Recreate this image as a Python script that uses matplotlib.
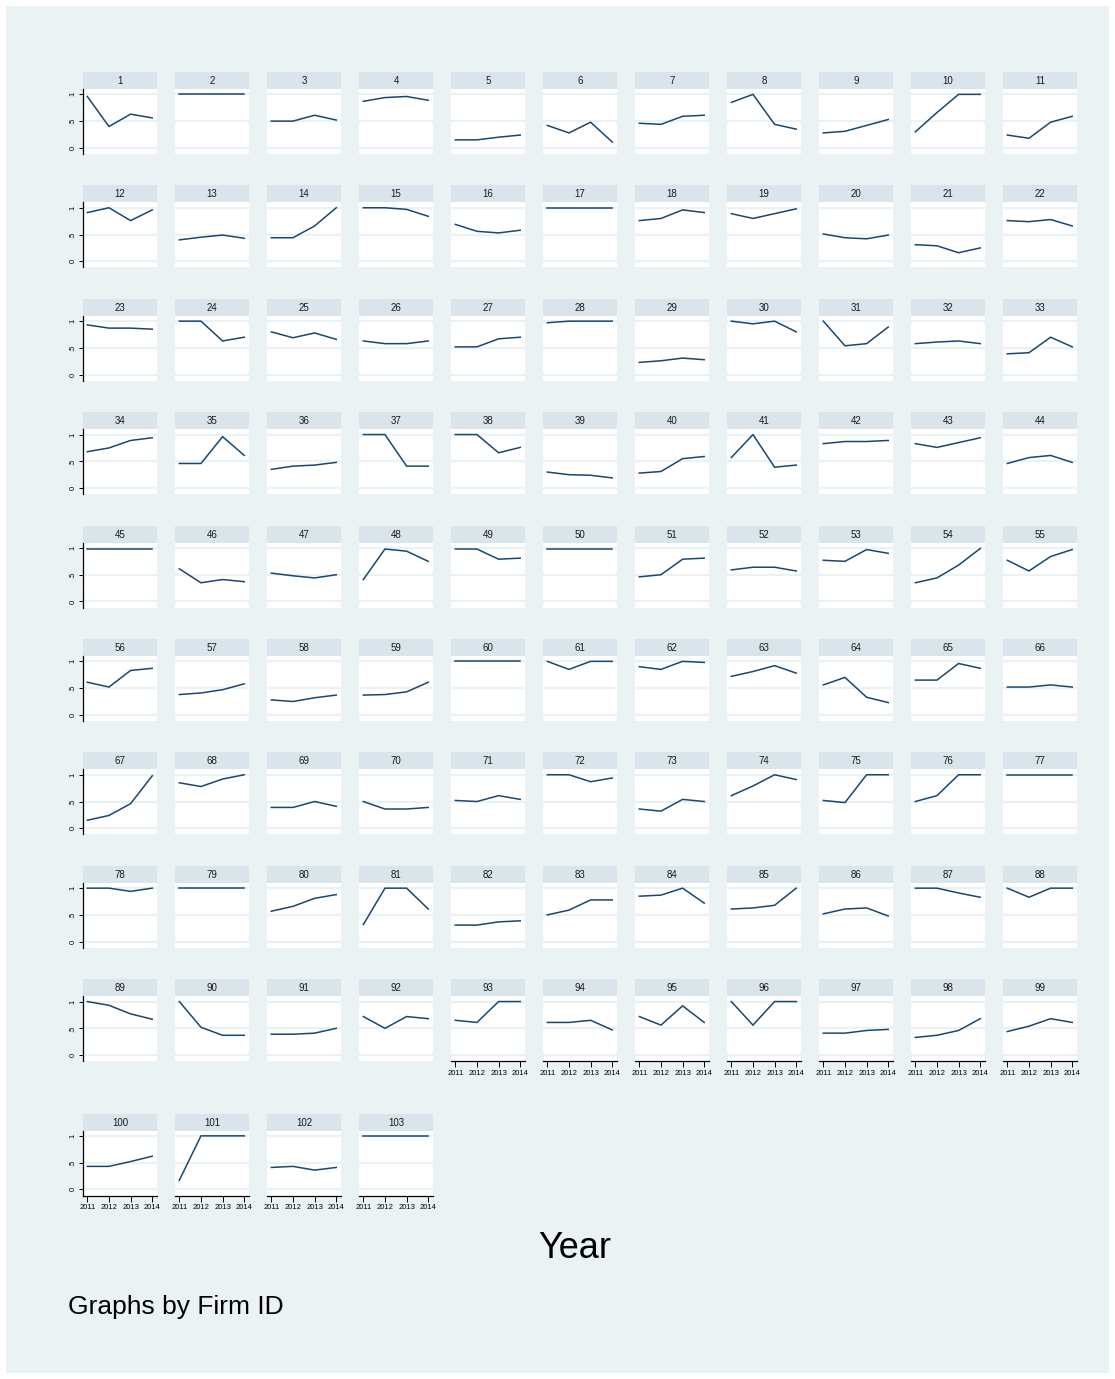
import matplotlib
matplotlib.use("Agg")
import matplotlib.pyplot as plt
from matplotlib.patches import Rectangle

# ---- data: share per firm, 2011-2014 ----
years = [2011, 2012, 2013, 2014]
y_ticks = [0, 0.5, 1]
y_tick_labels = ["0", ".5", "1"]

firms_001_011 = [
    [0.96, 0.40, 0.63, 0.56], [1.00, 1.00, 1.00, 1.00], [0.50, 0.50, 0.61, 0.52],
    [0.87, 0.94, 0.96, 0.89], [0.15, 0.15, 0.20, 0.24], [0.42, 0.28, 0.48, 0.11],
    [0.46, 0.44, 0.59, 0.61], [0.85, 1.00, 0.44, 0.35], [0.28, 0.31, 0.42, 0.53],
    [0.30, 0.66, 1.00, 1.00], [0.24, 0.18, 0.48, 0.59],
]
firms_012_022 = [
    [0.91, 1.00, 0.76, 0.96], [0.40, 0.45, 0.49, 0.43], [0.44, 0.44, 0.66, 1.00],
    [1.00, 1.00, 0.97, 0.84], [0.69, 0.56, 0.53, 0.58], [1.00, 1.00, 1.00, 1.00],
    [0.76, 0.80, 0.96, 0.91], [0.89, 0.80, 0.89, 0.98], [0.51, 0.44, 0.42, 0.49],
    [0.31, 0.29, 0.16, 0.25], [0.76, 0.74, 0.78, 0.66],
]
firms_023_033 = [
    [0.93, 0.87, 0.87, 0.85], [1.00, 1.00, 0.63, 0.70], [0.80, 0.69, 0.78, 0.66],
    [0.63, 0.58, 0.58, 0.63], [0.52, 0.52, 0.67, 0.70], [0.97, 1.00, 1.00, 1.00],
    [0.23, 0.26, 0.31, 0.28], [1.00, 0.95, 1.00, 0.80], [1.00, 0.54, 0.58, 0.89],
    [0.58, 0.61, 0.63, 0.58], [0.39, 0.41, 0.70, 0.52],
]
firms_034_044 = [
    [0.68, 0.75, 0.89, 0.94], [0.46, 0.46, 0.96, 0.61], [0.35, 0.41, 0.43, 0.48],
    [1.00, 1.00, 0.41, 0.41], [1.00, 1.00, 0.66, 0.76], [0.30, 0.25, 0.24, 0.19],
    [0.28, 0.31, 0.55, 0.59], [0.57, 1.00, 0.39, 0.43], [0.83, 0.87, 0.87, 0.89],
    [0.83, 0.76, 0.85, 0.94], [0.46, 0.57, 0.61, 0.48],
]
firms_045_055 = [
    [0.98, 0.98, 0.98, 0.98], [0.61, 0.35, 0.41, 0.37], [0.53, 0.48, 0.44, 0.50],
    [0.41, 0.98, 0.94, 0.75], [0.98, 0.98, 0.79, 0.81], [0.98, 0.98, 0.98, 0.98],
    [0.46, 0.50, 0.79, 0.81], [0.59, 0.64, 0.64, 0.57], [0.77, 0.75, 0.97, 0.90],
    [0.35, 0.44, 0.68, 0.99], [0.77, 0.57, 0.84, 0.97],
]
firms_056_066 = [
    [0.61, 0.52, 0.83, 0.87], [0.38, 0.41, 0.47, 0.58], [0.28, 0.25, 0.32, 0.37],
    [0.37, 0.38, 0.43, 0.61], [1.00, 1.00, 1.00, 1.00], [1.00, 0.85, 1.00, 1.00],
    [0.90, 0.85, 1.00, 0.98], [0.72, 0.81, 0.92, 0.78], [0.56, 0.70, 0.33, 0.23],
    [0.65, 0.65, 0.96, 0.87], [0.52, 0.52, 0.56, 0.52],
]
firms_067_077 = [
    [0.15, 0.24, 0.46, 0.98], [0.85, 0.78, 0.92, 1.00], [0.39, 0.39, 0.50, 0.41],
    [0.50, 0.36, 0.36, 0.39], [0.52, 0.50, 0.61, 0.54], [1.00, 1.00, 0.87, 0.94],
    [0.36, 0.32, 0.54, 0.50], [0.61, 0.79, 1.00, 0.91], [0.52, 0.48, 1.00, 1.00],
    [0.50, 0.61, 1.00, 1.00], [1.00, 1.00, 1.00, 1.00],
]
firms_078_088 = [
    [1.00, 1.00, 0.94, 1.00], [1.00, 1.00, 1.00, 1.00], [0.57, 0.66, 0.81, 0.88],
    [0.32, 1.00, 1.00, 0.61], [0.31, 0.31, 0.37, 0.39], [0.50, 0.59, 0.78, 0.78],
    [0.85, 0.87, 1.00, 0.72], [0.61, 0.63, 0.68, 1.00], [0.52, 0.61, 0.63, 0.48],
    [1.00, 1.00, 0.91, 0.83], [1.00, 0.83, 1.00, 1.00],
]
firms_089_099 = [
    [1.00, 0.93, 0.77, 0.67], [1.00, 0.52, 0.37, 0.37], [0.39, 0.39, 0.41, 0.50],
    [0.72, 0.50, 0.72, 0.68], [0.65, 0.61, 1.00, 1.00], [0.61, 0.61, 0.65, 0.47],
    [0.72, 0.56, 0.92, 0.61], [1.00, 0.56, 1.00, 1.00], [0.41, 0.41, 0.46, 0.48],
    [0.33, 0.37, 0.46, 0.68], [0.44, 0.54, 0.68, 0.61],
]
firms_100_103 = [
    [0.43, 0.43, 0.52, 0.62], [0.17, 1.00, 1.00, 1.00], [0.41, 0.43, 0.36, 0.41],
    [1.00, 1.00, 1.00, 1.00],
]

series = (firms_001_011 + firms_012_022 + firms_023_033 + firms_034_044
          + firms_045_055 + firms_056_066 + firms_067_077 + firms_078_088
          + firms_089_099 + firms_100_103)
firm_ids = list(range(1, len(series) + 1))

# ---- style ----
plt.rcParams["font.family"] = ["Liberation Sans", "DejaVu Sans"]
BG = "#EAF2F3"
STRIP = "#D9E5EB"
LINE = "#1A476F"

W, H = 1115, 1379
fig = plt.figure(figsize=(W / 100, H / 100), dpi=100, facecolor="white")
fig.patches.append(Rectangle((6 / W, 6 / H), (W - 12) / W, (H - 12) / H,
                             transform=fig.transFigure, facecolor=BG,
                             edgecolor="none", zorder=-10))

ncols = 11
col_left0, col_pitch, panel_w = 83, 92, 74
strip_h, plot_h = 17, 65
row_tops = [72 + 113.4 * r for r in range(9)] + [1113.5]
n = len(series)


def fig_rect(left_px, top_px, w_px, h_px):
    return [left_px / W, 1 - (top_px + h_px) / H, w_px / W, h_px / H]


for i, (fid, vals) in enumerate(zip(firm_ids, series)):
    r, c = divmod(i, ncols)
    left = col_left0 + c * col_pitch
    top = row_tops[r]

    # strip with firm id
    sax = fig.add_axes(fig_rect(left, top, panel_w, strip_h))
    sax.set_facecolor(STRIP)
    sax.set_xticks([]); sax.set_yticks([])
    for s in sax.spines.values():
        s.set_visible(False)
    sax.text(0.5, 0.47, str(fid), ha="center", va="center", fontsize=7,
             color="#1a1a1a", transform=sax.transAxes)

    ax = fig.add_axes(fig_rect(left, top + strip_h, panel_w, plot_h))
    ax.set_facecolor("white")
    ax.plot(years, vals, color=LINE, lw=1.1, solid_joinstyle="miter")
    ax.set_xlim(2010.8, 2014.22)
    ax.set_ylim(-0.114, 1.10)
    ax.set_yticks(y_ticks)
    ax.set_xticks(years)
    ax.yaxis.grid(True, color=BG, lw=1.6)
    ax.set_axisbelow(True)
    for s in ax.spines.values():
        s.set_visible(False)

    first_col = c == 0
    bottom_of_col = (i + ncols) >= n
    if first_col:
        ax.spines["left"].set_visible(True)
        ax.spines["left"].set_linewidth(0.9)
        ax.spines["left"].set_color("black")
        ax.set_yticklabels(y_tick_labels, rotation=90, va="center",
                           fontsize=5.5)
        ax.tick_params(axis="y", length=3, width=0.7, pad=1.5,
                       colors="black")
    else:
        ax.tick_params(axis="y", length=0, labelleft=False)
    if bottom_of_col:
        ax.spines["bottom"].set_visible(True)
        ax.spines["bottom"].set_linewidth(0.9)
        ax.spines["bottom"].set_color("black")
        ax.set_xticklabels([str(y) for y in years], fontsize=5.5)
        ax.tick_params(axis="x", length=4, width=0.7, pad=2,
                       colors="black")
    else:
        ax.tick_params(axis="x", length=0, labelbottom=False)

fig.text(575 / W, 1 - 1249 / H, "Year", ha="center", va="center",
         fontsize=26, color="black")
fig.text(68 / W, 1 - 1314 / H, "Graphs by Firm ID", ha="left",
         va="baseline", fontsize=19, color="black")

fig.savefig("out.png", dpi=100, facecolor="white")
